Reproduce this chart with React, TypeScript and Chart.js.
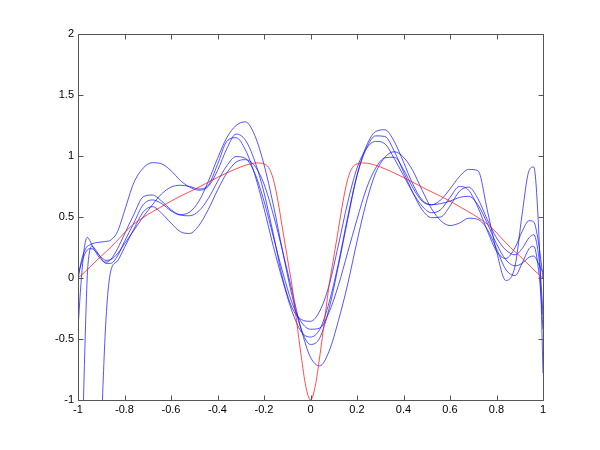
import { useEffect, useRef } from "react";
import { Chart, registerables } from "chart.js";

Chart.register(...registerables);

const xTicks = [-1, -0.8, -0.6, -0.4, -0.2, 0, 0.2, 0.4, 0.6, 0.8, 1];
const yTicks = [-1, -0.5, 0, 0.5, 1, 1.5, 2];

// sample positions shared by the blue curves
const bx = [
  -1, -0.99, -0.98, -0.97, -0.96, -0.95, -0.94, -0.92, -0.9, -0.88, -0.86, -0.83, -0.8,
  -0.76, -0.72, -0.68, -0.64, -0.6, -0.56, -0.52, -0.48, -0.44, -0.4, -0.36, -0.32, -0.28,
  -0.24, -0.2, -0.16, -0.12, -0.08, -0.04, 0, 0.04, 0.08, 0.12, 0.16, 0.2, 0.24, 0.28,
  0.32, 0.36, 0.4, 0.44, 0.48, 0.52, 0.56, 0.6, 0.64, 0.68, 0.72, 0.76, 0.8, 0.84, 0.88,
  0.91, 0.94, 0.96, 0.98, 0.99, 1,
];

const fitA = [
  -0.02, 0.1, 0.18, 0.23, 0.26, 0.27, 0.28, 0.29, 0.295, 0.3, 0.31, 0.38, 0.55,
  0.78, 0.9, 0.945, 0.935, 0.88, 0.8, 0.745, 0.72, 0.75, 0.88, 1.06, 1.18, 1.13,
  0.96, 0.7, 0.36, 0.0, -0.24, -0.34, -0.355, -0.27, -0.06, 0.27, 0.62, 0.9, 1.06, 1.12,
  1.1, 0.98, 0.84, 0.7, 0.59, 0.535, 0.56, 0.66, 0.75, 0.72, 0.58, 0.39, 0.22, 0.16, 0.25,
  0.38, 0.47, 0.46, 0.3, 0.16, 0.0,
];

const fitB = [
  0.02, 0.09, 0.15, 0.2, 0.23, 0.24, 0.24, 0.21, 0.17, 0.145, 0.15, 0.2, 0.28,
  0.39, 0.5, 0.6, 0.69, 0.745, 0.76, 0.75, 0.73, 0.76, 0.93, 1.12, 1.15, 1.05,
  0.85, 0.57, 0.26, -0.02, -0.27, -0.44, -0.484, -0.42, -0.2, 0.12, 0.5, 0.84, 1.06, 1.165,
  1.16, 1.04, 0.87, 0.7, 0.56, 0.495, 0.5, 0.59, 0.71, 0.745, 0.65, 0.48, 0.33, 0.23, 0.19,
  0.24, 0.33, 0.355, 0.2, 0.0, -0.3,
];

const fitC = [
  -0.42, -0.12, 0.12, 0.28, 0.333, 0.31, 0.27, 0.2, 0.15, 0.13, 0.15, 0.24, 0.36,
  0.52, 0.665, 0.68, 0.63, 0.56, 0.52, 0.54, 0.63, 0.79, 0.98, 1.15, 1.25, 1.28,
  1.17, 0.93, 0.6, 0.22, -0.14, -0.42, -0.545, -0.49, -0.25, 0.1, 0.48, 0.84, 1.08, 1.2,
  1.215, 1.12, 0.95, 0.77, 0.64, 0.6, 0.64, 0.73, 0.83, 0.89, 0.88, 0.56, 0.22, -0.02, 0.1,
  0.52, 0.88, 0.91, 0.45, -0.05, -0.78,
];

const fitD = [
  -3.5, -2.4, -1.3, -0.55, 0.02, 0.22, 0.26, 0.22, 0.16, 0.12, 0.12, 0.18, 0.3,
  0.45, 0.6, 0.64, 0.61, 0.55, 0.515, 0.51, 0.55, 0.65, 0.79, 0.92, 0.995, 0.98,
  0.86, 0.63, 0.34, 0.05, -0.2, -0.36, -0.42, -0.41, -0.28, -0.06, 0.21, 0.48, 0.73, 0.9,
  0.985, 0.99, 0.89, 0.74, 0.63, 0.6, 0.61, 0.63, 0.66, 0.67, 0.6, 0.45, 0.28, 0.15, 0.1,
  0.12, 0.17, 0.18, 0.12, 0.08, 0.05,
];

const fitE = [
  -6, -5.5, -5, -4.5, -4, -3.6, -3.2, -2.3, -1.25, -0.35, 0.05, 0.14, 0.25,
  0.4, 0.54, 0.585, 0.53, 0.45, 0.38, 0.365, 0.43, 0.56, 0.72, 0.86, 0.95, 0.97,
  0.92, 0.77, 0.52, 0.22, -0.1, -0.42, -0.65, -0.72, -0.6, -0.35, -0.05, 0.3, 0.62, 0.86,
  0.99, 1.035, 0.99, 0.88, 0.72, 0.57, 0.47, 0.43, 0.45, 0.49, 0.48, 0.4, 0.24, 0.07, 0.02,
  0.12, 0.24, 0.26, 0.08, -0.12, -0.42,
];

const redX = [
  -1, -0.97, -0.93, -0.9, -0.86, -0.82, -0.78, -0.74, -0.7, -0.65, -0.6, -0.55, -0.5, -0.45,
  -0.4, -0.35, -0.3, -0.26, -0.23, -0.2, -0.18, -0.16, -0.14, -0.12, -0.1, -0.08, -0.06,
  -0.04, -0.02, 0, 0.02, 0.04, 0.06, 0.08, 0.1, 0.12, 0.14, 0.16, 0.18, 0.2, 0.23, 0.26,
  0.3, 0.35, 0.4, 0.45, 0.5, 0.55, 0.6, 0.65, 0.7, 0.74, 0.78, 0.82, 0.86, 0.9, 0.93, 0.97, 1,
];
const redY = [
  0, 0.05, 0.125, 0.18, 0.25, 0.33, 0.41, 0.47, 0.52, 0.575, 0.63, 0.68, 0.725, 0.775,
  0.825, 0.87, 0.91, 0.935, 0.943, 0.935, 0.905, 0.81, 0.63, 0.4, 0.17, -0.06, -0.35,
  -0.64, -0.89, -1, -0.89, -0.64, -0.35, -0.06, 0.17, 0.4, 0.63, 0.81, 0.905, 0.935, 0.943, 0.935,
  0.91, 0.87, 0.825, 0.775, 0.725, 0.68, 0.63, 0.575, 0.52, 0.47, 0.41, 0.33, 0.25, 0.18, 0.125, 0.05, 0,
];

const blueFits = [fitA, fitB, fitC, fitD, fitE];

const pts = (xs: number[], ys: number[]) => xs.map((x, i) => ({ x, y: ys[i] }));

const fmt = (v: number) => String(Number(Number(v).toFixed(2)));

const boxPlugin = {
  id: "matlabBox",
  afterDraw(chart: any) {
    const { ctx, chartArea: a, scales } = chart;
    const L = Math.round(a.left) + 0.5;
    const R = Math.round(a.right) + 0.5;
    const T = Math.round(a.top) + 0.5;
    const B = Math.round(a.bottom) + 0.5;
    const len = 5;
    ctx.save();
    ctx.strokeStyle = "#555555";
    ctx.lineWidth = 1;
    ctx.beginPath();
    ctx.rect(L, T, R - L, B - T);
    xTicks.forEach((v) => {
      const px = Math.round(scales.x.getPixelForValue(v)) + 0.5;
      ctx.moveTo(px, B);
      ctx.lineTo(px, B - len);
      ctx.moveTo(px, T);
      ctx.lineTo(px, T + len);
    });
    yTicks.forEach((v) => {
      const py = Math.round(scales.y.getPixelForValue(v)) + 0.5;
      ctx.moveTo(L, py);
      ctx.lineTo(L + len, py);
      ctx.moveTo(R, py);
      ctx.lineTo(R - len, py);
    });
    ctx.stroke();
    ctx.restore();
  },
};

export default function App() {
  const ref = useRef<HTMLCanvasElement | null>(null);

  useEffect(() => {
    if (!ref.current) return;
    const datasets: any[] = blueFits.map((ys) => ({
      data: pts(bx, ys),
      borderColor: "rgba(20,20,255,0.72)",
      borderWidth: 1,
      pointRadius: 0,
      fill: false,
      cubicInterpolationMode: "monotone",
    }));
    datasets.unshift({
      data: pts(redX, redY),
      borderColor: "rgba(255,20,20,0.75)",
      borderWidth: 1,
      pointRadius: 0,
      fill: false,
      cubicInterpolationMode: "monotone",
    });
    const font = { family: "'Liberation Sans', Arial, sans-serif", size: 11 };
    const chart = new Chart(ref.current, {
      type: "line",
      data: { datasets },
      options: {
        animation: false,
        responsive: false,
        devicePixelRatio: 1,
        layout: { padding: { left: 0, right: 57, top: 34, bottom: 0 } },
        plugins: { legend: { display: false }, tooltip: { enabled: false } },
        scales: {
          x: {
            type: "linear",
            min: -1,
            max: 1,
            grid: { display: false, drawTicks: false },
            border: { display: false },
            afterBuildTicks: (s: any) => {
              s.ticks = xTicks.map((v) => ({ value: v }));
            },
            afterFit: (s: any) => {
              s.height = 50;
            },
            ticks: {
              autoSkip: false,
              maxRotation: 0,
              padding: 3,
              color: "#000",
              font,
              callback: (v: any) => fmt(v),
            },
          },
          y: {
            type: "linear",
            min: -1,
            max: 2,
            grid: { display: false, drawTicks: false },
            border: { display: false },
            afterBuildTicks: (s: any) => {
              s.ticks = yTicks.map((v) => ({ value: v }));
            },
            afterFit: (s: any) => {
              s.width = 78;
            },
            ticks: {
              autoSkip: false,
              padding: 4,
              color: "#000",
              font,
              callback: (v: any) => fmt(v),
            },
          },
        },
      },
      plugins: [boxPlugin],
    });
    return () => chart.destroy();
  }, []);

  return (
    <div style={{ position: "absolute", left: 0, top: 0, width: 600, height: 450, background: "#fff" }}>
      <canvas ref={ref} width={600} height={450} style={{ width: 600, height: 450, display: "block" }} />
    </div>
  );
}
